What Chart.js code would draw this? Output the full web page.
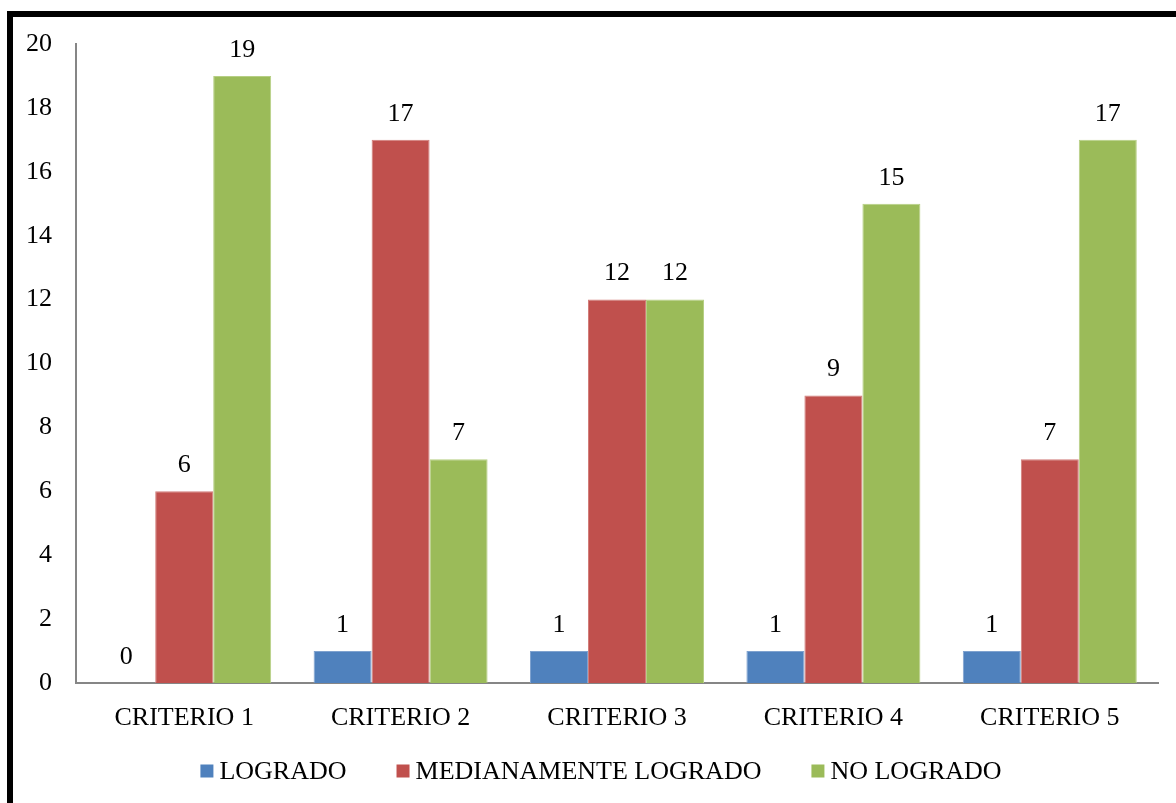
<!DOCTYPE html>
<html>
<head>
<meta charset="utf-8">
<script src="https://cdn.jsdelivr.net/npm/chart.js@4.4.1/dist/chart.umd.min.js"></script>
<style>
  html, body { margin: 0; padding: 0; background: #fff; overflow: hidden; }
  #wrap { position: relative; width: 1176px; height: 803px; }
  #marco {
    position: absolute; left: 7px; top: 11px; width: 1300px; height: 900px;
    border: 6px solid #000; pointer-events: none;
  }
</style>
</head>
<body>
<div id="wrap">
  <canvas id="grafico" width="1176" height="803"></canvas>
  <div id="marco"></div>
</div>
<script>
// datos del grafico
const criterios = ['CRITERIO 1', 'CRITERIO 2', 'CRITERIO 3', 'CRITERIO 4', 'CRITERIO 5'];
const logrado = [0, 1, 1, 1, 1];
const medianamente = [6, 17, 12, 9, 7];
const noLogrado = [19, 7, 12, 15, 17];
const ticksY = [0, 2, 4, 6, 8, 10, 12, 14, 16, 18, 20];

const fuente = "'Liberation Serif', 'Times New Roman', serif";

// etiquetas encima de cada barra
const etiquetasBarras = {
    id: 'etiquetasBarras',
    afterDatasetsDraw(chart) {
        const ctx = chart.ctx;
        ctx.save();
        ctx.font = '26px ' + fuente;
        ctx.fillStyle = '#000';
        ctx.textAlign = 'center';
        ctx.textBaseline = 'middle';
        chart.data.datasets.forEach((ds, i) => {
            chart.getDatasetMeta(i).data.forEach((bar, j) => {
                ctx.fillText(ds.data[j], bar.x, bar.y - 26);
            });
        });
        ctx.restore();
    }
};

// leyenda estilo Excel: cuadro pegado al texto y separacion amplia
const leyendaAbajo = {
    id: 'leyendaAbajo',
    afterDraw(chart) {
        const ctx = chart.ctx;
        const caja = 13, hueco = 6, sep = 50, yc = 771;
        ctx.save();
        ctx.font = '26px ' + fuente;
        ctx.textBaseline = 'middle';
        const anchos = chart.data.datasets.map(ds => ctx.measureText(ds.label).width);
        const total = anchos.reduce((a, w) => a + caja + hueco + w, 0) + sep * (anchos.length - 1);
        let x = 601 - total / 2;
        chart.data.datasets.forEach((ds, i) => {
            ctx.fillStyle = ds.backgroundColor;
            ctx.fillRect(x, yc - caja / 2, caja, caja);
            ctx.fillStyle = '#000';
            ctx.fillText(ds.label, x + caja + hueco, yc + 1);
            x += caja + hueco + anchos[i] + sep;
        });
        ctx.restore();
    }
};

new Chart(document.getElementById('grafico'), {
    type: 'bar',
    data: {
        labels: criterios,
        datasets: [
            { label: 'LOGRADO', data: logrado, backgroundColor: '#4F81BD', borderColor: '#7fa2cf', borderWidth: 1 },
            { label: 'MEDIANAMENTE LOGRADO', data: medianamente, backgroundColor: '#C0504D', borderColor: '#d27d7a', borderWidth: 1 },
            { label: 'NO LOGRADO', data: noLogrado, backgroundColor: '#9BBB59', borderColor: '#b6cf84', borderWidth: 1 }
        ]
    },
    options: {
        responsive: false,
        animation: false,
        layout: { padding: { left: 0, top: 44, right: 18, bottom: 55 } },
        datasets: {
            bar: { barPercentage: 1, categoryPercentage: 0.804 }
        },
        plugins: {
            tooltip: { enabled: false },
            legend: { display: false }
        },
        scales: {
            x: {
                grid: { display: false },
                border: { display: true, color: '#868686', width: 2 },
                ticks: { color: '#000', padding: 12, font: { family: fuente, size: 26 } },
                afterFit(scale) { scale.height = 65; }
            },
            y: {
                min: 0,
                max: 20,
                grid: { display: false },
                border: { display: true, color: '#868686', width: 2 },
                afterBuildTicks(scale) { scale.ticks = ticksY.map(v => ({ value: v })); },
                ticks: { color: '#000', padding: 16, font: { family: fuente, size: 26 } },
                afterFit(scale) { scale.width = 76; }
            }
        }
    },
    plugins: [etiquetasBarras, leyendaAbajo]
});
</script>
</body>
</html>
